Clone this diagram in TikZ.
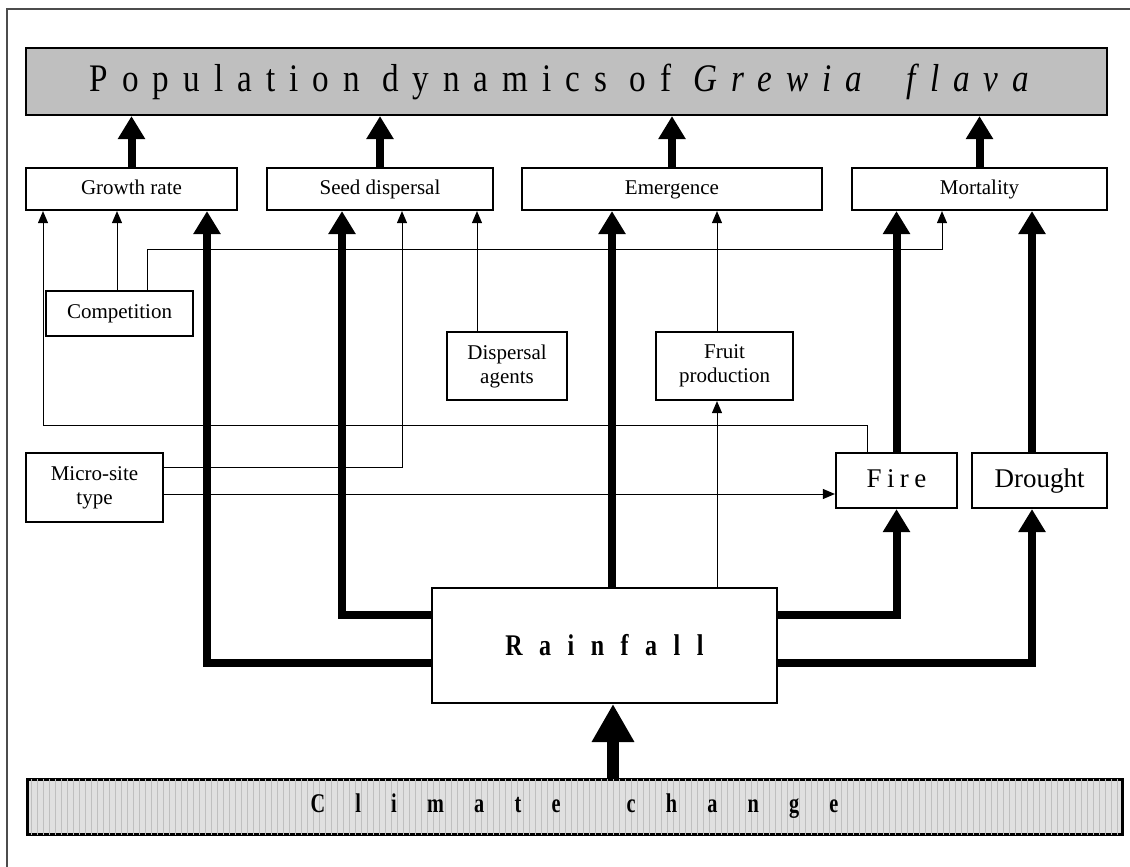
\documentclass[tikz,border=0pt]{standalone}
\usepackage{fontspec}
\setmainfont{Liberation Serif}
\newfontfamily\titlefont[FakeStretch=0.85,LetterSpace=36]{Liberation Serif}
\newfontfamily\rainfont[FakeStretch=0.8,LetterSpace=55]{Liberation Serif}
\newfontfamily\climfont[FakeStretch=0.75,LetterSpace=112]{Liberation Serif}
\newfontfamily\firefont[LetterSpace=20]{Liberation Serif}
\usetikzlibrary{arrows.meta,calc,patterns}

\tikzset{
	box/.style={draw, line width=1.1pt, fill=white, inner sep=0pt, align=center,
		font=\fontsize{10.5}{12}\selectfont},
	oneline/.style={text height=7.5pt, text depth=2.5pt},
	weak/.style={line width=0.5pt, -{Triangle[length=6pt,width=5pt]}},
	strong/.style={line width=4pt, -{Triangle[length=11.5pt,width=13pt]}},
	huge/.style={line width=6pt, -{Triangle[length=19pt,width=20pt]}},
}

\begin{document}
\begin{tikzpicture}[x=0.5pt,y=-0.5pt]
		\useasboundingbox (0,0) rectangle (1130,867);
		\draw[line width=0.7pt, black!70] (7,867)--(7,9)--(1130,9);

		%% population
		\node[draw, line width=1.1pt, fill=black!25, minimum width=540.5pt, minimum height=33.5pt]
			at (566.5,81.5)(pop){\fontsize{19.5}{20}\titlefont Population\ dynamics\ of\ \textit{Grewia\ \ flava}};

		%% factors
		\node[box, oneline, minimum width=105.5pt, minimum height=21pt] at (131.5,189)(growth){Growth rate};
		\node[box, oneline, minimum width=113pt, minimum height=21pt] at (380,189)(seed){Seed dispersal};
		\node[box, oneline, minimum width=150pt, minimum height=21pt] at (672,189)(emerg){Emergence};
		\node[box, oneline, minimum width=127.5pt, minimum height=21pt] at (979.5,189)(mort){Mortality};

		%% drivers
		\node[box, oneline, minimum width=73.5pt, minimum height=22.5pt] at (119.5,313.5)(compet){Competition};
		\node[box, minimum width=60pt, minimum height=34pt] at (507,366)(agents){Dispersal\\agents};
		\node[box, minimum width=68.5pt, minimum height=34pt] at (724.5,366)(fruit){Fruit\\production};
		\node[box, minimum width=68.5pt, minimum height=34.5pt] at (94.5,487.5)(micro){Micro-site\\type};
		\node[box, minimum width=60.5pt, minimum height=27.5pt, text height=9.5pt, text depth=3pt,
			font=\fontsize{13.5}{15}\firefont] at (896.5,480.5)(fire){Fire};
		\node[box, minimum width=67.5pt, minimum height=27.5pt, text height=9.5pt, text depth=3pt,
			font=\fontsize{13.5}{15}\selectfont] at (1039.5,480.5)(drought){Drought};

		%% rainfall, climate
		\node[draw, line width=1pt, fill=white, minimum width=172.5pt, minimum height=57.5pt,
			font=\fontsize{15}{16}\rainfont\bfseries] at (604.5,645.5)(rain){Rainfall};
		\node[draw, line width=1.5pt, fill=black!12, postaction={pattern=vertical lines, pattern color=black!25},
			minimum width=547.5pt, minimum height=27.5pt, font=\fontsize{13.5}{15}\climfont\bfseries]
			at (574.5,806.5)(clim){Climate\hspace{33pt}change};

		%% thin links
		\draw[weak] ($(fire.north)+(-29.5,0)$) -- ++(0,-26) -| ($(growth.south)+(-88.5,0)$);
		\draw[weak] ($(compet.north)+(-2.5,0)$) -- ($(growth.south)+(-14.5,0)$);
		\draw[weak] ($(compet.north)+(27.5,0)$) -- ++(0,-40) -| ($(mort.south)+(-37.5,0)$);
		\draw[weak] ($(micro.east)+(0,-20.5)$) -| ($(seed.south)+(22,0)$);
		\draw[weak] ($(micro.east)+(0,6.5)$) -- ($(fire.west)+(0,13.5)$);
		\draw[weak] ($(agents.north)+(-30,0)$) -- ($(seed.south)+(97,0)$);
		\draw[weak] ($(fruit.north)+(-7.5,0)$) -- ($(emerg.south)+(45,0)$);
		\draw[weak] ($(rain.north)+(112.5,0)$) -- ($(fruit.south)+(-7.5,0)$);

		%% thick links
		\draw[strong] ($(rain.west)+(0,17.5)$) -| ($(growth.south)+(75.5,0)$);
		\draw[strong] ($(rain.west)+(0,-30.5)$) -| ($(seed.south)+(-38,0)$);
		\draw[strong] ($(rain.north)+(7.5,0)$) -- ($(emerg.south)+(-60,0)$);
		\draw[strong] ($(rain.east)+(0,-30.5)$) -| (fire.south);
		\draw[strong] ($(rain.east)+(0,17.5)$) -| ($(drought.south)+(-7.5,0)$);
		\draw[strong] (fire.north) -- (fire.north |- mort.south);
		\draw[strong] ($(drought.north)+(-7.5,0)$) -- ($(mort.south)+(52.5,0)$);
		\draw[huge] ($(clim.north)+(38.5,0)$) -- ($(rain.south)+(8.5,0)$);

		\foreach \f in {growth,seed,emerg,mort}
			\draw[strong] (\f.north) -- (\f.north |- pop.south);
\end{tikzpicture}
\end{document}
